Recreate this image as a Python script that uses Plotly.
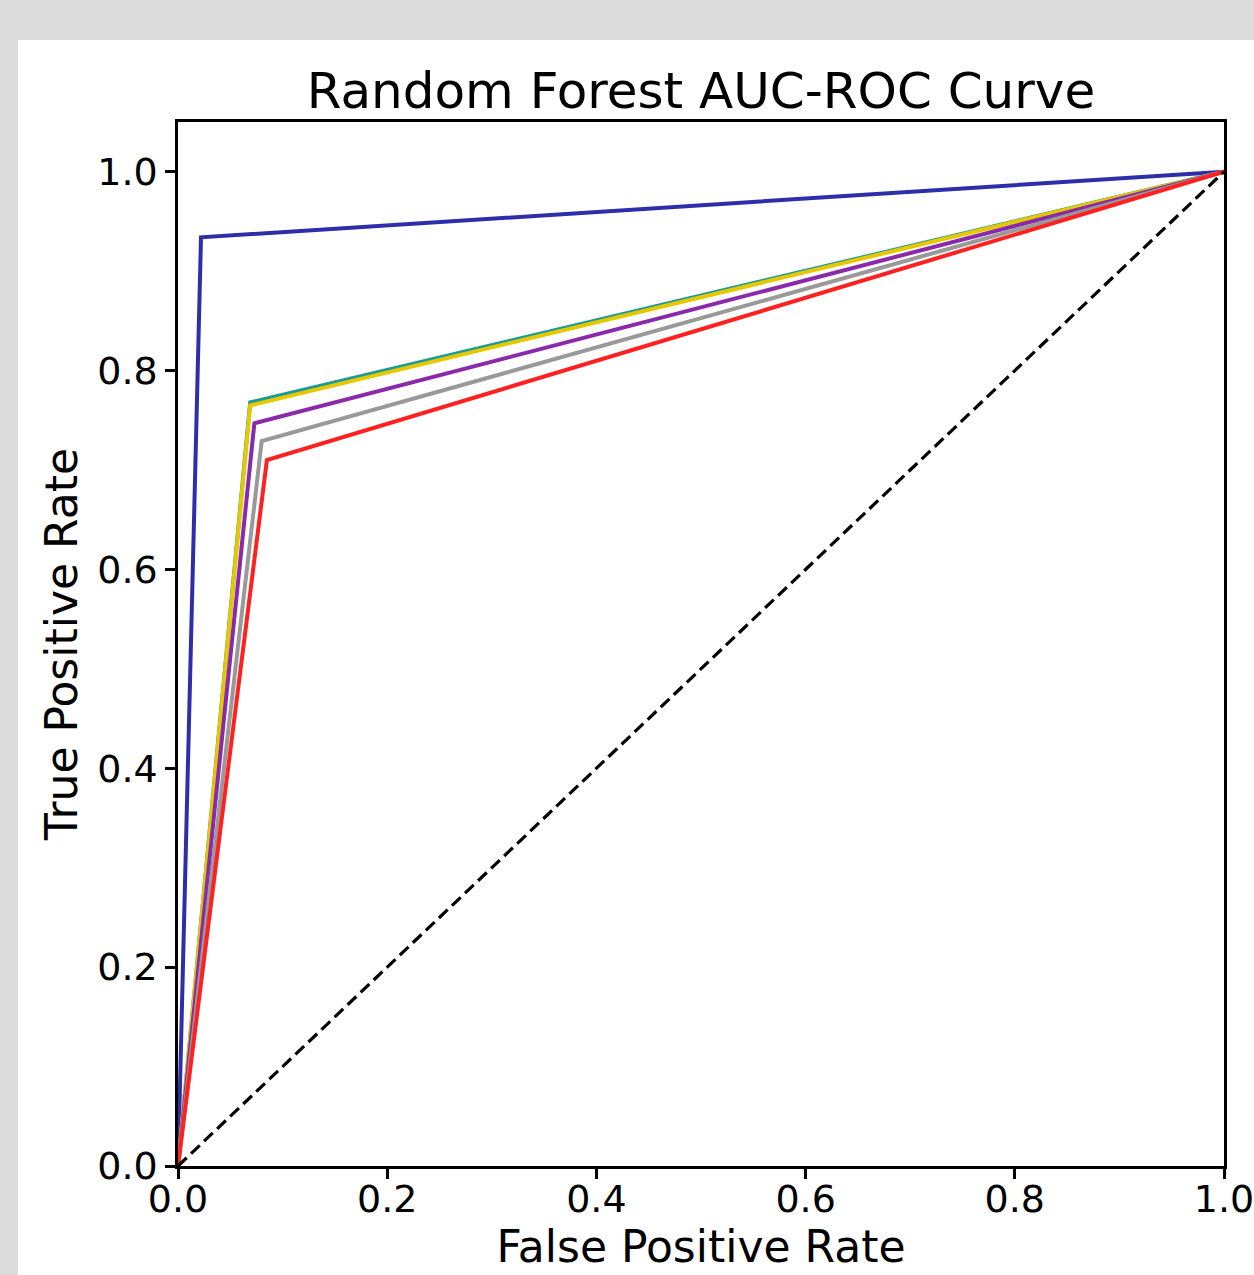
import plotly.graph_objects as go

# ROC curves: three points each (0,0) -> knee -> (1,1)
models = ["Model A", "Model B", "Model C", "Model D", "Model E", "Model F"]
colors = ["#2e2eaa", "#1a9a9a", "#e6c800", "#8a2aaa", "#999999", "#ff2020"]
knee_fpr = [0.022, 0.069, 0.069, 0.073, 0.080, 0.085]
knee_tpr = [0.934, 0.768, 0.765, 0.747, 0.729, 0.710]
diag_x = [0.0, 1.0]
diag_y = [0.0, 1.0]
x_ticks = [0.0, 0.2, 0.4, 0.6, 0.8, 1.0]
y_ticks = [0.0, 0.2, 0.4, 0.6, 0.8, 1.0]

FONT = "DejaVu Sans"
fig = go.Figure()
for name, c, fx, ty in zip(models, colors, knee_fpr, knee_tpr):
    fig.add_trace(go.Scatter(x=[0.0, fx, 1.0], y=[0.0, ty, 1.0], mode="lines",
                             line=dict(color=c, width=4), name=name,
                             showlegend=False))
fig.add_trace(go.Scatter(x=diag_x, y=diag_y, mode="lines",
                         line=dict(color="black", width=3.2, dash="12px,6px"),
                         showlegend=False))

L, R, T, B = 178, 30, 122, 109
W, H = 1254, 1275
pw = W - L - R
ph = H - T - B
# background: gray strip top & left, white card
fig.add_shape(type="rect", xref="paper", yref="paper", layer="below",
              x0=(18 - L) / pw, x1=(W + 10 - L) / pw,
              y0=-(H + 10 - T - ph) / ph, y1=(H - B - 40) / ph,
              fillcolor="white", line=dict(width=0))

fig.update_layout(
    width=W, height=H,
    margin=dict(l=L, r=R, t=T, b=B, autoexpand=False),
    paper_bgcolor="#dcdcdc",
    plot_bgcolor="white",
    font=dict(family=FONT, color="black", size=38),
    title=dict(text="Random Forest AUC-ROC Curve", x=0.5, xanchor="center",
               xref="paper", y=(H - 90) / H, yanchor="middle",
               font=dict(size=50, family=FONT), automargin=False),
    xaxis=dict(range=[0, 1], tickvals=x_ticks, ticktext=[f"{v:.1f}" for v in x_ticks],
               showgrid=False, zeroline=False, showline=True, linecolor="black",
               linewidth=2.5, mirror=True, ticks="outside", ticklen=10, tickwidth=2.5,
               tickcolor="black", tickfont=dict(size=38), ticklabeloverflow="allow",
               ticklabelstandoff=-12, automargin=False,
               title=dict(text="False Positive Rate", font=dict(size=44), standoff=4)),
    yaxis=dict(range=[0, 1.05], tickvals=y_ticks, ticktext=[f"{v:.1f}" for v in y_ticks],
               showgrid=False, zeroline=False, showline=True, linecolor="black",
               linewidth=2.5, mirror=True, ticks="outside", ticklen=10, tickwidth=2.5,
               tickcolor="black", tickfont=dict(size=38), ticklabeloverflow="allow",
               automargin=False,
               title=dict(text="True Positive Rate", font=dict(size=44), standoff=6)),
)
fig.write_html("out.html", config={"displayModeBar": False},
               post_script="document.body.style.margin='0';document.body.style.overflow='hidden';")
